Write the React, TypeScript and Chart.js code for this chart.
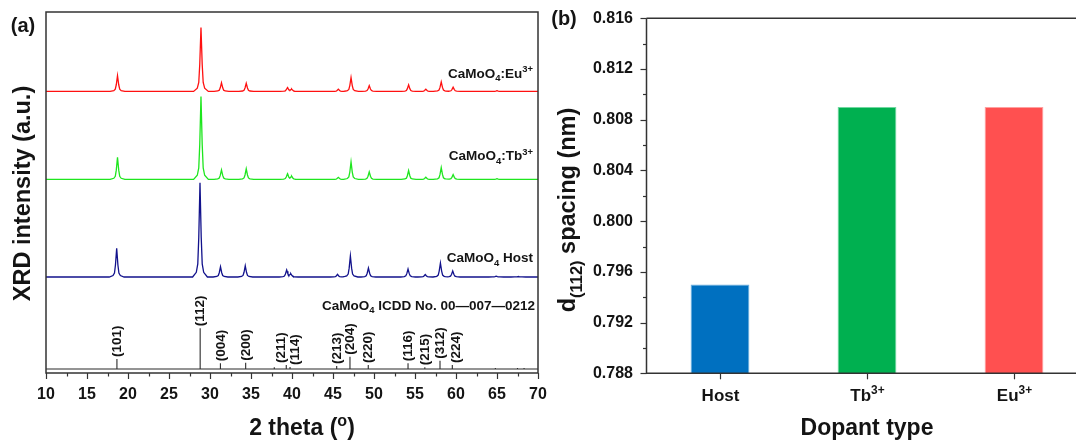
import React, { useEffect, useRef } from 'react';
import { Chart, registerables } from 'chart.js';

Chart.register(...registerables);

const FONT = '"Liberation Sans", Arial, Helvetica, sans-serif';
const INK = '#141414';
const AXIS = '#333333';

// ---------------- Panel (a): XRD patterns ----------------
const TWO_THETA_MIN = 10;
const TWO_THETA_MAX = 70;
const INTENSITY_MIN = 0;
const INTENSITY_MAX = 361;

// CaMoO4:Eu3+ (red)
const EU_BASELINE = 281.6;
const EU_PEAK_2THETA = [18.72, 28.9, 31.4, 34.42, 39.45, 39.95, 45.65, 47.2, 49.42, 54.22, 56.32, 58.2, 59.65, 65.0];
const EU_PEAK_INTENSITY = [15.8, 64.0, 8.6, 8.0, 3.8, 2.2, 2.3, 13.8, 5.8, 6.5, 2.3, 9.5, 4.3, 0.8];

// CaMoO4:Tb3+ (green)
const TB_BASELINE = 193.6;
const TB_PEAK_2THETA = [18.72, 28.9, 31.4, 34.42, 39.45, 39.95, 45.65, 47.2, 49.42, 54.22, 56.32, 58.2, 59.65, 65.0];
const TB_PEAK_INTENSITY = [22.0, 82.8, 9.5, 10.5, 5.5, 3.0, 2.0, 17.5, 7.5, 8.8, 2.2, 11.8, 4.8, 0.8];

// CaMoO4 host (navy)
const HOST_BASELINE = 96.0;
const HOST_PEAK_2THETA = [18.62, 28.78, 31.28, 34.3, 39.35, 39.85, 45.55, 47.12, 49.32, 54.15, 56.25, 58.1, 59.6, 64.9, 67.6];
const HOST_PEAK_INTENSITY = [28.6, 94.2, 10.2, 11.2, 6.9, 3.0, 2.6, 21.0, 9.0, 8.0, 2.5, 14.0, 6.0, 0.8, 0.5];

// ICDD 00-007-0212 reference lines
const ICDD_BASELINE = 4;
const ICDD_2THETA = [18.65, 28.8, 31.27, 34.35, 37.84, 39.3, 39.76, 45.45, 47.07, 49.3, 54.15, 56.2, 58.05, 59.55, 64.8, 67.5, 68.3];
const ICDD_INTENSITY = [10, 40.7, 5.7, 6.3, 1.7, 4, 2, 3, 12.3, 4, 5.7, 1.7, 8.3, 4, 1, 1, 1];
const ICDD_HKL = ['(101)', '(112)', '(004)', '(200)', '', '(211)', '(114)', '(213)', '(204)', '(220)', '(116)', '(215)', '(312)', '(224)', '', '', ''];

// ---------------- Panel (b): d(112) spacing ----------------
const DOPANT_ION = ['Host', 'Tb', 'Eu'];
const DOPANT_CHARGE = ['', '3+', '3+'];
const D112_SPACING_NM = [0.795, 0.809, 0.809];
const D_MIN = 0.788;
const D_MAX = 0.816;
const D_STEP = 0.004;

// ---------------- styles / layout ----------------
const LINE_COLORS = { eu: '#FF1010', tb: '#1EE61E', host: '#12128C' };
const BAR_FILL = ['#0070C0', '#00B050', '#FF5050'];
const BAR_EDGE = ['#6BB0E0', '#70D8A0', '#FFA0A0'];
const PEAK_PROFILE: [number, number][] = [
  [-0.9, 0], [-0.45, 0.05], [-0.27, 0.14], [-0.15, 0.42], [0, 1],
  [0.15, 0.42], [0.27, 0.14], [0.45, 0.05], [0.9, 0],
];
const HKL_LABEL_SHIFT: Record<string, number> = { '(211)': -5, '(114)': 5, '(224)': 3 };

type Run = { t: string; k?: 'sub' | 'sup' };

function runFont(size: number, k: Run['k'], weight: string) {
  const s = k ? size * 0.7 : size;
  return `${weight} ${s}px ${FONT}`;
}
function richWidth(ctx: CanvasRenderingContext2D, runs: Run[], size: number, weight: string) {
  let w = 0;
  for (const r of runs) {
    ctx.font = runFont(size, r.k, weight);
    w += ctx.measureText(r.t).width;
  }
  return w;
}
function drawRich(
  ctx: CanvasRenderingContext2D,
  runs: Run[],
  x: number,
  cy: number,
  size: number,
  align: 'left' | 'right' | 'center',
  weight = 'bold',
  color = INK
) {
  const w = richWidth(ctx, runs, size, weight);
  let cx = align === 'left' ? x : align === 'right' ? x - w : x - w / 2;
  const base = cy + size * 0.36;
  ctx.fillStyle = color;
  ctx.textAlign = 'left';
  ctx.textBaseline = 'alphabetic';
  for (const r of runs) {
    ctx.font = runFont(size, r.k, weight);
    const dy = r.k === 'sub' ? size * 0.26 : r.k === 'sup' ? -size * 0.4 : 0;
    ctx.fillText(r.t, cx, base + dy);
    cx += ctx.measureText(r.t).width;
  }
}
function drawRichRotated(ctx: CanvasRenderingContext2D, runs: Run[], cx: number, cy: number, size: number) {
  ctx.save();
  ctx.translate(cx, cy);
  ctx.rotate(-Math.PI / 2);
  drawRich(ctx, runs, 0, 0, size, 'center');
  ctx.restore();
}

function profileAt(d: number) {
  if (d <= PEAK_PROFILE[0][0] || d >= PEAK_PROFILE[PEAK_PROFILE.length - 1][0]) return 0;
  for (let i = 0; i < PEAK_PROFILE.length - 1; i++) {
    const [x0, y0] = PEAK_PROFILE[i];
    const [x1, y1] = PEAK_PROFILE[i + 1];
    if (d >= x0 && d <= x1) return y0 + ((d - x0) / (x1 - x0)) * (y1 - y0);
  }
  return 0;
}

function buildPattern(baseline: number, pos: number[], inten: number[]) {
  const xs = new Set<number>([TWO_THETA_MIN, TWO_THETA_MAX]);
  pos.forEach((p) =>
    PEAK_PROFILE.forEach(([d]) => {
      const v = +(p + d).toFixed(3);
      if (v >= TWO_THETA_MIN && v <= TWO_THETA_MAX) xs.add(v);
    })
  );
  return [...xs]
    .sort((a, b) => a - b)
    .map((x) => ({ x, y: baseline + pos.reduce((s, p, i) => s + inten[i] * profileAt(x - p), 0) }));
}

function buildSticks() {
  const pts: { x: number; y: number }[] = [{ x: TWO_THETA_MIN, y: ICDD_BASELINE }];
  ICDD_2THETA.forEach((p, i) => {
    pts.push({ x: p, y: ICDD_BASELINE });
    pts.push({ x: p, y: ICDD_BASELINE + ICDD_INTENSITY[i] });
    pts.push({ x: p, y: ICDD_BASELINE });
  });
  pts.push({ x: TWO_THETA_MAX, y: ICDD_BASELINE });
  return pts;
}

const panelAPlugin = {
  id: 'panelA',
  afterDraw(chart: any) {
    const { ctx, chartArea: a, scales } = chart;
    const xs = scales.x;
    const ys = scales.y;
    ctx.save();
    ctx.strokeStyle = AXIS;
    ctx.lineWidth = 1.5;
    ctx.strokeRect(a.left, a.top, a.right - a.left, a.bottom - a.top);
    ctx.lineWidth = 1.2;
    for (let v = TWO_THETA_MIN; v <= TWO_THETA_MAX + 1e-9; v += 2.5) {
      const px = Math.round(xs.getPixelForValue(v)) + 0.5;
      const major = Math.abs(v % 5) < 1e-9;
      ctx.beginPath();
      ctx.moveTo(px, a.bottom);
      ctx.lineTo(px, a.bottom + (major ? 6 : 3.5));
      ctx.stroke();
    }
    ICDD_2THETA.forEach((p, i) => {
      const lab = ICDD_HKL[i];
      if (!lab) return;
      const px = xs.getPixelForValue(p) + (HKL_LABEL_SHIFT[lab] || 0);
      const top = ys.getPixelForValue(ICDD_BASELINE + ICDD_INTENSITY[i]) - 2;
      ctx.save();
      ctx.translate(px, top);
      ctx.rotate(-Math.PI / 2);
      ctx.font = `bold 13.5px ${FONT}`;
      ctx.fillStyle = INK;
      ctx.textAlign = 'left';
      ctx.textBaseline = 'middle';
      ctx.fillText(lab, 0, 0.5);
      ctx.restore();
    });
    const right = a.right - 5;
    drawRich(ctx, [{ t: 'CaMoO' }, { t: '4', k: 'sub' }, { t: ':Eu' }, { t: '3+', k: 'sup' }], right, 73, 13.5, 'right');
    drawRich(ctx, [{ t: 'CaMoO' }, { t: '4', k: 'sub' }, { t: ':Tb' }, { t: '3+', k: 'sup' }], right, 155.5, 13.5, 'right');
    drawRich(ctx, [{ t: 'CaMoO' }, { t: '4', k: 'sub' }, { t: ' Host' }], right, 257.5, 13.5, 'right');
    drawRich(ctx, [{ t: 'CaMoO' }, { t: '4', k: 'sub' }, { t: ' ICDD No. 00\u2014007\u20140212' }], a.right - 3, 305, 13.5, 'right');
    drawRich(ctx, [{ t: '(a)' }], 23, 25, 20, 'center');
    drawRichRotated(ctx, [{ t: 'XRD intensity (a.u.)' }], 22, 193.5, 23.5);
    drawRich(ctx, [{ t: '2 theta (' }, { t: 'o', k: 'sup' }, { t: ')' }], 302, 427, 23, 'center');
    ctx.restore();
  },
};

const panelBPlugin = {
  id: 'panelB',
  afterDraw(chart: any) {
    const { ctx, chartArea: a, scales } = chart;
    const xs = scales.x;
    const ys = scales.y;
    ctx.save();
    ctx.strokeStyle = AXIS;
    ctx.lineWidth = 1.5;
    ctx.beginPath();
    ctx.moveTo(a.left, a.top);
    ctx.lineTo(a.right + 20, a.top);
    ctx.moveTo(a.left, a.top);
    ctx.lineTo(a.left, a.bottom);
    ctx.lineTo(a.right + 20, a.bottom);
    ctx.stroke();
    ctx.lineWidth = 1.2;
    const nSteps = Math.round((D_MAX - D_MIN) / (D_STEP / 2));
    for (let i = 0; i <= nSteps; i++) {
      const v = D_MIN + (i * D_STEP) / 2;
      const py = Math.round(ys.getPixelForValue(v)) + 0.5;
      ctx.beginPath();
      ctx.moveTo(a.left, py);
      ctx.lineTo(a.left - (i % 2 === 0 ? 6 : 3.5), py);
      ctx.stroke();
    }
    DOPANT_ION.forEach((ion, i) => {
      const px = Math.round(xs.getPixelForValue(i)) + 0.5;
      ctx.beginPath();
      ctx.moveTo(px, a.bottom);
      ctx.lineTo(px, a.bottom + 6);
      ctx.stroke();
      const runs: Run[] = [{ t: ion }];
      if (DOPANT_CHARGE[i]) runs.push({ t: DOPANT_CHARGE[i], k: 'sup' });
      drawRich(ctx, runs, px, 395, 17, 'center');
    });
    drawRich(ctx, [{ t: 'Dopant type' }], (a.left + a.right) / 2, 427, 23, 'center');
    drawRich(ctx, [{ t: '(b)' }], 24, 18, 20, 'center');
    drawRichRotated(ctx, [{ t: 'd' }, { t: '(112)', k: 'sub' }, { t: ' spacing (nm)' }], 27, 210, 23.5);
    ctx.restore();
  },
};

export default function App() {
  const refA = useRef<HTMLCanvasElement>(null);
  const refB = useRef<HTMLCanvasElement>(null);

  useEffect(() => {
    const tickFont = { family: FONT, size: 16, weight: 'bold' as const };
    const chartA = new Chart(refA.current!, {
      type: 'line',
      data: {
        datasets: [
          { label: 'ICDD', data: buildSticks(), borderColor: '#2a2a2a', borderWidth: 1.1 },
          { label: 'Host', data: buildPattern(HOST_BASELINE, HOST_PEAK_2THETA, HOST_PEAK_INTENSITY), borderColor: LINE_COLORS.host, borderWidth: 1.3 },
          { label: 'Tb', data: buildPattern(TB_BASELINE, TB_PEAK_2THETA, TB_PEAK_INTENSITY), borderColor: LINE_COLORS.tb, borderWidth: 1.3 },
          { label: 'Eu', data: buildPattern(EU_BASELINE, EU_PEAK_2THETA, EU_PEAK_INTENSITY), borderColor: LINE_COLORS.eu, borderWidth: 1.3 },
        ],
      },
      options: {
        responsive: false,
        animation: false,
        devicePixelRatio: 1,
        events: [],
        elements: { point: { radius: 0 }, line: { tension: 0 } },
        layout: { padding: { left: 46, right: 10, top: 12, bottom: 37 } },
        plugins: { legend: { display: false }, tooltip: { enabled: false } },
        scales: {
          x: {
            type: 'linear',
            min: TWO_THETA_MIN,
            max: TWO_THETA_MAX,
            ticks: { stepSize: 5, font: tickFont, color: INK, padding: 12.4, maxRotation: 0 },
            grid: { display: false, drawTicks: false },
            border: { display: false },
            afterFit: (s: any) => { s.height = 30; s.paddingLeft = 0; s.paddingRight = 0; },
          },
          y: { type: 'linear', min: INTENSITY_MIN, max: INTENSITY_MAX, display: false },
        },
      },
      plugins: [panelAPlugin],
    } as any);

    const chartB = new Chart(refB.current!, {
      type: 'bar',
      data: {
        labels: DOPANT_ION.map((ion, i) => ion + DOPANT_CHARGE[i]),
        datasets: [
          {
            label: 'd(112) spacing (nm)',
            data: D112_SPACING_NM,
            backgroundColor: BAR_FILL,
            borderColor: BAR_EDGE,
            borderWidth: 1,
            barPercentage: 0.4,
            categoryPercentage: 1,
          },
        ],
      },
      options: {
        responsive: false,
        animation: false,
        devicePixelRatio: 1,
        events: [],
        layout: { padding: { left: 0, right: 0.5, top: 18.3, bottom: 66.7 } },
        plugins: { legend: { display: false }, tooltip: { enabled: false } },
        scales: {
          x: { type: 'category', display: false, offset: true },
          y: {
            min: D_MIN,
            max: D_MAX,
            ticks: {
              stepSize: D_STEP,
              font: tickFont,
              color: INK,
              padding: 13.5,
              callback: (v: any) => Number(v).toFixed(3),
            },
            grid: { display: false, drawTicks: false },
            border: { display: false },
            afterFit: (s: any) => { s.width = 106.5; s.paddingTop = 0; s.paddingBottom = 0; },
          },
        },
      },
      plugins: [panelBPlugin],
    } as any);

    return () => {
      chartA.destroy();
      chartB.destroy();
    };
  }, []);

  return (
    <div style={{ position: 'fixed', left: 0, top: 0, width: 1076, height: 440, overflow: 'hidden', background: '#fff' }}>
      <canvas ref={refA} width={548} height={440} style={{ position: 'absolute', left: 0, top: 0 }} />
      <canvas ref={refB} width={548} height={440} style={{ position: 'absolute', left: 540, top: 0 }} />
    </div>
  );
}
